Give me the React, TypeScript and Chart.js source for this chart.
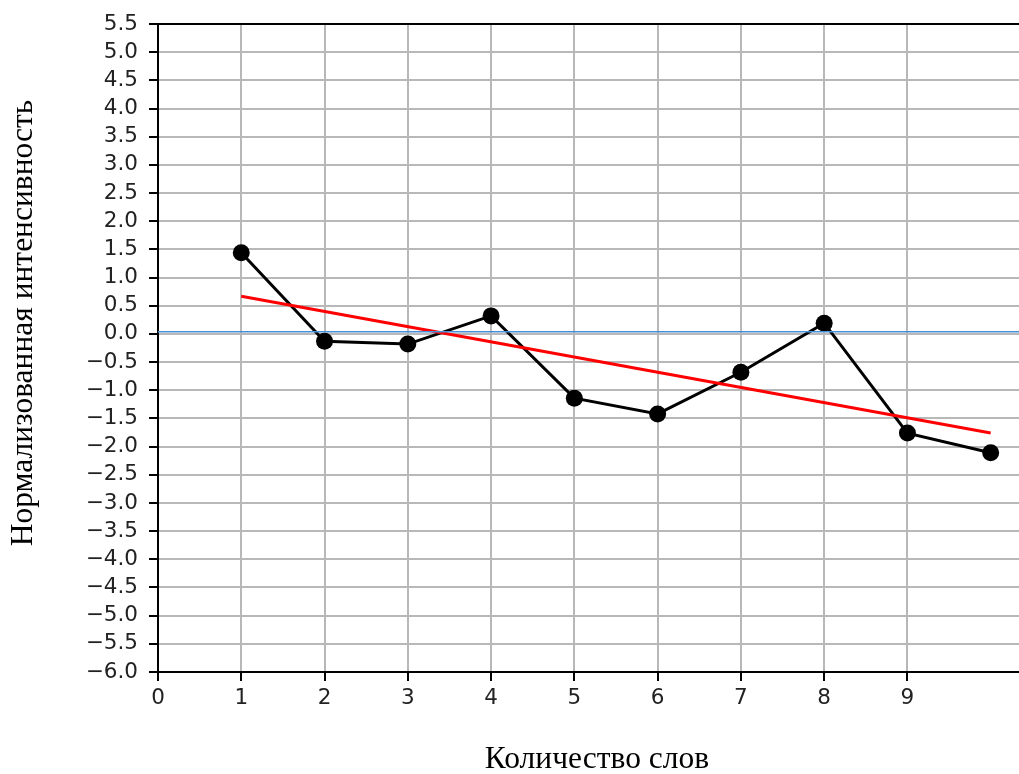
import React, { useEffect, useRef } from "react";
import { Chart, registerables } from "chart.js";

Chart.register(...registerables);

// Measured series: normalised intensity per word count
const wordCounts = [1, 2, 3, 4, 5, 6, 7, 8, 9, 10];
const intensity = [1.44, -0.13, -0.18, 0.32, -1.14, -1.42, -0.68, 0.19, -1.76, -2.11];

// Linear trend (endpoints)
const trendX = [1, 10];
const trendY = [0.67, -1.76];

// Horizontal reference level
const baselineY = 0.04;

// Axis ticks
const xTickValues = [0, 1, 2, 3, 4, 5, 6, 7, 8, 9];
const X_MIN = 0;
const X_MAX = 10.4;
const Y_MIN = -6;
const Y_MAX = 5.5;
const Y_STEP = 0.5;

const xTitle = "Количество слов";
const yTitle = "Нормализованная интенсивность";

const CANVAS_W = 1024;
const CANVAS_H = 774;
const PLOT_LEFT = 158;
const PLOT_BOTTOM = 672;

const fmtY = (v: number) => (v < 0 ? "\u2212" : "") + Math.abs(v).toFixed(1);

const framePlugin = {
  id: "frameAndTitles",
  afterDraw(chart: any) {
    const { ctx, chartArea } = chart;
    ctx.save();
    // top spine
    ctx.strokeStyle = "#000";
    ctx.lineWidth = 2;
    ctx.beginPath();
    ctx.moveTo(chartArea.left, chartArea.top);
    ctx.lineTo(chartArea.right, chartArea.top);
    ctx.stroke();

    ctx.fillStyle = "#000";
    ctx.font = '31.5px "Liberation Serif", "Times New Roman", serif';
    ctx.textAlign = "center";
    ctx.textBaseline = "alphabetic";
    ctx.fillText(xTitle, 597, 768);

    ctx.translate(32, 323);
    ctx.rotate(-Math.PI / 2);
    ctx.fillText(yTitle, 0, 0);
    ctx.restore();
  },
};

export default function App() {
  const ref = useRef<HTMLCanvasElement | null>(null);

  useEffect(() => {
    if (!ref.current) return;
    const tickFont = { family: '"DejaVu Sans", sans-serif', size: 21.5 };
    const gridStyle = {
      color: "#b8b8b8",
      lineWidth: 2,
      tickColor: "#000",
      tickWidth: 2,
      tickLength: 9,
    };
    const chart = new Chart(ref.current, {
      type: "line",
      data: {
        datasets: [
          {
            label: "baseline",
            data: [
              { x: X_MIN, y: baselineY },
              { x: X_MAX, y: baselineY },
            ],
            borderColor: "#4a90d9",
            borderWidth: 1.5,
            pointRadius: 0,
          },
          {
            label: "trend",
            data: trendX.map((x, i) => ({ x, y: trendY[i] })),
            borderColor: "#ff0000",
            borderWidth: 3,
            pointRadius: 0,
          },
          {
            label: "intensity",
            data: wordCounts.map((x, i) => ({ x, y: intensity[i] })),
            borderColor: "#000",
            borderWidth: 3,
            pointRadius: 8.5,
            pointBackgroundColor: "#000",
            pointBorderColor: "#000",
            pointBorderWidth: 0,
          },
        ],
      },
      options: {
        responsive: false,
        animation: false,
        devicePixelRatio: 1,
        layout: { autoPadding: false, padding: { top: 24, left: 0, right: 0, bottom: 0 } },
        plugins: {
          legend: { display: false },
          tooltip: { enabled: false },
        },
        scales: {
          x: {
            type: "linear",
            min: X_MIN,
            max: X_MAX,
            afterBuildTicks: (scale: any) => {
              scale.ticks = xTickValues.map((v) => ({ value: v }));
            },
            afterFit: (scale: any) => {
              scale.height = CANVAS_H - PLOT_BOTTOM;
              scale.paddingLeft = 0;
              scale.paddingRight = 0;
            },
            grid: gridStyle,
            border: { color: "#000", width: 2 },
            ticks: {
              color: "#222",
              font: tickFont,
              padding: 5,
              maxRotation: 0,
              autoSkip: false,
              callback: (v: any) => String(v),
            },
          },
          y: {
            type: "linear",
            min: Y_MIN,
            max: Y_MAX,
            afterBuildTicks: (scale: any) => {
              const t = [];
              for (let v = Y_MIN; v <= Y_MAX + 1e-9; v += Y_STEP) t.push({ value: Math.round(v * 10) / 10 });
              scale.ticks = t;
            },
            afterFit: (scale: any) => {
              scale.width = PLOT_LEFT;
              scale.paddingTop = 0;
              scale.paddingBottom = 0;
            },
            grid: gridStyle,
            border: { color: "#000", width: 2 },
            ticks: {
              color: "#222",
              font: tickFont,
              padding: 11,
              autoSkip: false,
              callback: (v: any) => fmtY(Number(v)),
            },
          },
        },
      },
      plugins: [framePlugin],
    });
    return () => chart.destroy();
  }, []);

  return (
    <div
      style={{
        position: "absolute",
        left: 0,
        top: 0,
        width: 1019,
        height: CANVAS_H,
        overflow: "hidden",
        background: "#fff",
      }}
    >
      <canvas ref={ref} width={CANVAS_W} height={CANVAS_H} style={{ display: "block" }} />
    </div>
  );
}
